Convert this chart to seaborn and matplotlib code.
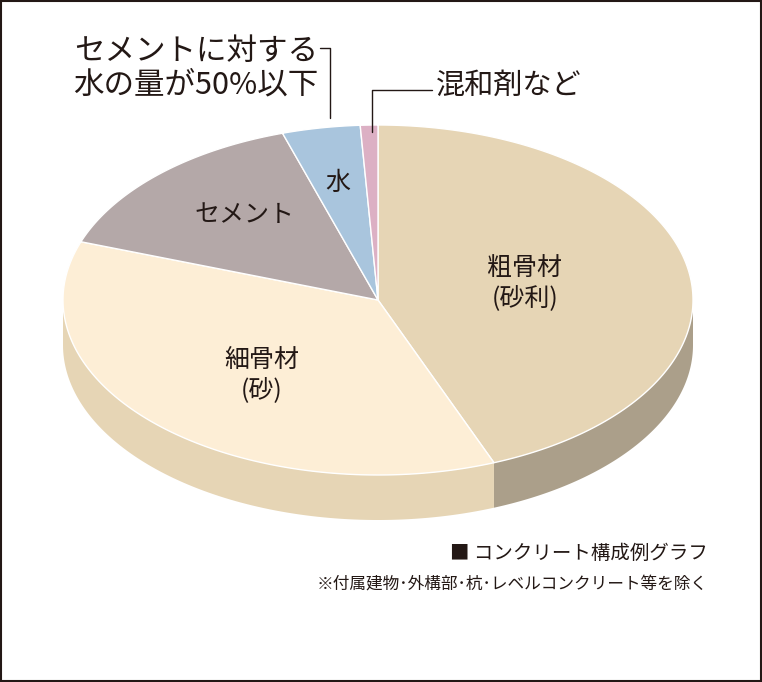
import numpy as np
import matplotlib
matplotlib.use("Agg")
import matplotlib.pyplot as plt
import seaborn as sns

sns.set_style("white")
plt.rcParams['font.family'] = ['Noto Sans CJK JP', 'DejaVu Sans']

# Composition (%) clockwise from 12 o'clock
names = ['粗骨材\n(砂利)', '細骨材\n(砂)', 'セメント', '水', '']
shares = [44.0, 36.4, 14.7, 4.0, 0.9]
top_colors = ['#e6d5b5', '#fdeed6', '#b4a8a8', '#a9c5dd', '#dcb0c4']
side_colors = ['#ab9f8a', '#e6d5b5', '#9a8f8f', '#8fa9bf', '#bf97a9']
label_pos = [(525, 283), (262, 375), (245, 215), (338, 183), None]

cx, cy, a, b, depth = 378, 300, 315, 175, 45

def pt(theta, dz=0):
    t = np.radians(theta)
    return cx + a * np.sin(t), cy - b * np.cos(t) + dz

fig = plt.figure(figsize=(7.62, 6.82), dpi=100)
ax = fig.add_axes([0, 0, 1, 1])
ax.set_xlim(0, 762)
ax.set_ylim(682, 0)
ax.axis('off')

edges = np.concatenate([[0], np.cumsum(shares) / sum(shares) * 360])

# sides (front half only)
for i in range(len(shares)):
    lo, hi = max(edges[i], 90), min(edges[i + 1], 270)
    if hi <= lo:
        continue
    th = np.linspace(lo, hi, 100)
    xs, ys = pt(th)
    xb, yb = pt(th[::-1], depth)
    ax.fill(np.concatenate([xs, xb]), np.concatenate([ys, yb]),
            color=side_colors[i], lw=0)

# tops
for i in range(len(shares)):
    th = np.linspace(edges[i], edges[i + 1], 200)
    xs, ys = pt(th)
    ax.fill(np.concatenate([[cx], xs]), np.concatenate([[cy], ys]),
            facecolor=top_colors[i], edgecolor='white', lw=1)
    if label_pos[i]:
        ax.text(*label_pos[i], names[i], ha='center', va='center',
                fontsize=18, color='#231815', linespacing=1.25)

# leader lines and callouts
ax.plot([320, 330, 330], [48, 48, 118], color='#231815', lw=1)
ax.text(318, 68, 'セメントに対する\n水の量が50%以下', ha='right', va='center',
        fontsize=22, color='#231815', linespacing=1.1)
ax.plot([432, 372, 372], [90, 90, 132], color='#231815', lw=1)
ax.text(436, 86, '混和剤など', ha='left', va='center', fontsize=21, color='#231815')

ax.text(708, 553, '■ コンクリート構成例グラフ', ha='right', va='center',
        fontsize=14, color='#231815')
ax.text(708, 584, '※付属建物･外構部･杭･レベルコンクリート等を除く', ha='right',
        va='center', fontsize=12, color='#231815')

ax.add_patch(plt.Rectangle((1, 1), 760, 680, fill=False, ec='#231815', lw=1.5))

fig.savefig('out.png', dpi=100)
